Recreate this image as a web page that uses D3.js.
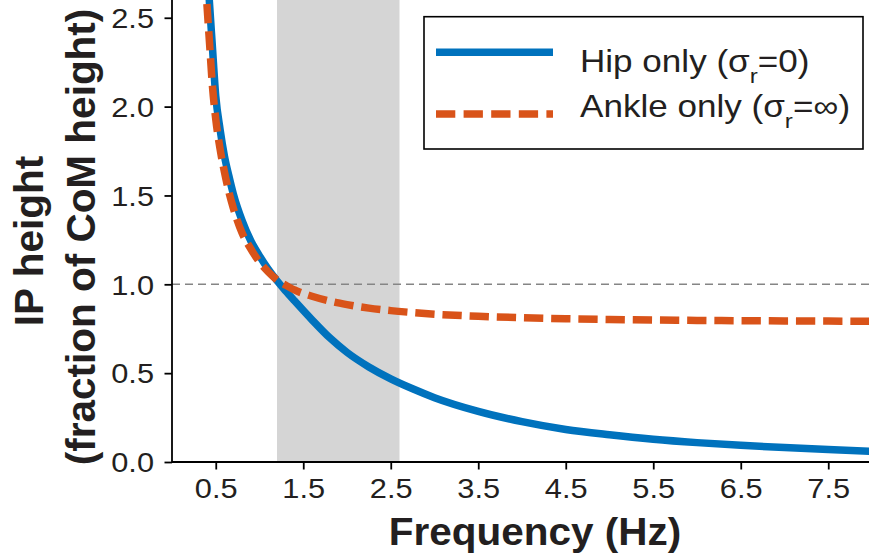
<!DOCTYPE html>
<html>
<head>
<meta charset="utf-8">
<script src="https://cdn.jsdelivr.net/npm/d3@7"></script>
<style>
  html, body { margin: 0; padding: 0; background: #fff; }
  svg { display: block; }
  text { font-family: "Liberation Sans", Arial, Helvetica, sans-serif; fill: #231f20; }
</style>
</head>
<body>
<svg id="chart" width="869" height="560"></svg>
<script>
// Inverted-pendulum height vs. sway frequency, for the two limiting strategies
const frequency = [0.38, 0.40, 0.43, 0.46, 0.50, 0.55, 0.60, 0.65, 0.70, 0.80,
                   0.90, 1.00, 1.10, 1.20, 1.30, 1.40, 1.60, 1.80, 2.00, 2.25,
                   2.50, 2.75, 3.00, 3.50, 4.00, 4.50, 5.00, 5.50, 6.00, 6.50,
                   7.00, 7.50, 8.00];
const hipOnly = [2.99, 2.81, 2.57, 2.35, 2.06, 1.87, 1.72, 1.61, 1.51, 1.36,
                 1.245, 1.16, 1.085, 1.02, 0.962, 0.907, 0.80, 0.70, 0.617, 0.535,
                 0.468, 0.412, 0.362, 0.285, 0.227, 0.183, 0.153, 0.128, 0.109, 0.094,
                 0.081, 0.070, 0.060];
const ankleOnly = [2.73, 2.57, 2.35, 2.13, 1.93, 1.76, 1.63, 1.52, 1.43, 1.29,
                   1.20, 1.125, 1.07, 1.025, 0.995, 0.968, 0.933, 0.906, 0.886, 0.866,
                   0.852, 0.841, 0.832, 0.820, 0.812, 0.806, 0.802, 0.799, 0.797, 0.795,
                   0.794, 0.793, 0.792];
const xTicks = [0.5, 1.5, 2.5, 3.5, 4.5, 5.5, 6.5, 7.5];
const yTicks = [0.0, 0.5, 1.0, 1.5, 2.0, 2.5];
const shadedBand = [1.2, 2.6];   // Hz
const referenceLevel = 1.0;      // IP height equal to CoM height
const xDomain = [0, 8];
const yDomain = [0, 2.6];

const W = 869, H = 560;
const plot = { left: 172, right: 872, top: 0, bottom: 462 };
const blue = "#0072BD", orange = "#D95319";
const labelStretch = 1.14;

const svg = d3.select("#chart");
const x = d3.scaleLinear().domain(xDomain).range([plot.left, plot.right]);
const y = d3.scaleLinear().domain(yDomain).range([plot.bottom, plot.top]);

svg.append("defs").append("clipPath").attr("id", "plotClip")
  .append("rect")
  .attr("x", plot.left).attr("y", plot.top)
  .attr("width", W - plot.left).attr("height", plot.bottom - plot.top);

const area = svg.append("g").attr("clip-path", "url(#plotClip)");

// shaded frequency band
area.append("rect")
  .attr("x", x(shadedBand[0]))
  .attr("y", y(yDomain[1]))
  .attr("width", x(shadedBand[1]) - x(shadedBand[0]))
  .attr("height", y(yDomain[0]) - y(yDomain[1]))
  .attr("fill", "#d5d5d5");

// reference line at CoM height
area.append("line")
  .attr("x1", x(xDomain[0])).attr("x2", x(xDomain[1]))
  .attr("y1", y(referenceLevel)).attr("y2", y(referenceLevel))
  .attr("stroke", "#858585").attr("stroke-width", 1.6)
  .attr("stroke-dasharray", "8,5");

const line = d3.line()
  .x(d => x(d[0])).y(d => y(d[1]))
  .curve(d3.curveMonotoneX);

area.append("path")
  .datum(frequency.map((f, i) => [f, hipOnly[i]]))
  .attr("d", line)
  .attr("fill", "none").attr("stroke", blue)
  .attr("stroke-width", 7.5);

area.append("path")
  .datum(frequency.map((f, i) => [f, ankleOnly[i]]))
  .attr("d", line)
  .attr("fill", "none").attr("stroke", orange)
  .attr("stroke-width", 7.5)
  .attr("stroke-dasharray", "19.3,7.9");

// axes
const fmt = d3.format(".1f");
const xAxis = svg.append("g")
  .attr("transform", `translate(0,${plot.bottom})`)
  .call(d3.axisBottom(x).tickValues(xTicks).tickFormat(fmt).tickSize(7.5).tickSizeOuter(0));
const yAxis = svg.append("g")
  .attr("transform", `translate(${plot.left},0)`)
  .call(d3.axisLeft(y).tickValues(yTicks).tickFormat(fmt).tickSize(7.5).tickSizeOuter(0));

[xAxis, yAxis].forEach(g => {
  g.select(".domain").attr("stroke", "#000").attr("stroke-width", 1.8);
  g.selectAll(".tick line").attr("stroke", "#000").attr("stroke-width", 1.8);
  g.selectAll(".tick text")
    .style("font-family", '"Liberation Sans", Arial, Helvetica, sans-serif')
    .style("font-size", "27px").attr("fill", "#231f20");
});
xAxis.select(".domain").attr("d", `M${plot.left},0H${W}`);
yAxis.select(".domain").attr("d", `M0,${plot.top}V${plot.bottom}`);

xAxis.selectAll(".tick text")
  .attr("y", 0).attr("dy", null)
  .attr("transform", `translate(0,36) scale(${labelStretch},1)`);
yAxis.selectAll(".tick text")
  .attr("x", 0).attr("dy", null)
  .attr("transform", `translate(-18,9.7) scale(${labelStretch},1)`);

// axis titles
svg.append("text")
  .attr("transform", "translate(535,545) scale(1.066,1)")
  .attr("text-anchor", "middle")
  .style("font-size", "38px").style("font-weight", "bold")
  .attr("fill", "#000")
  .text("Frequency (Hz)");

svg.append("text")
  .attr("transform", "translate(43,241) rotate(-90)")
  .attr("text-anchor", "middle")
  .style("font-size", "40.5px").style("font-weight", "bold")
  .attr("fill", "#000")
  .text("IP height");
svg.append("text")
  .attr("transform", "translate(95,237) rotate(-90)")
  .attr("text-anchor", "middle")
  .style("font-size", "40.5px").style("font-weight", "bold")
  .attr("fill", "#000")
  .text("(fraction of CoM height)");

// legend
const legend = svg.append("g");
legend.append("rect")
  .attr("x", 424).attr("y", 16.7).attr("width", 439).attr("height", 132.3)
  .attr("fill", "#fff").attr("stroke", "#000").attr("stroke-width", 1.6);

const entries = [
  { name: "Hip only (σ", tail: "=0)", color: blue, dash: null, lineY: 52.3, textY: 72 },
  { name: "Ankle only (σ", tail: "=∞)", color: orange, dash: "19.3,8.3", lineY: 114, textY: 117 }
];
entries.forEach(e => {
  legend.append("line")
    .attr("x1", 436).attr("x2", 553)
    .attr("y1", e.lineY).attr("y2", e.lineY)
    .attr("stroke", e.color).attr("stroke-width", 7.5)
    .attr("stroke-dasharray", e.dash);
  const t = legend.append("text")
    .attr("transform", `translate(580,${e.textY}) scale(1.15,1)`)
    .style("font-size", "30.5px");
  t.append("tspan").text(e.name);
  t.append("tspan").attr("dy", 11).style("font-size", "21px").text("r");
  t.append("tspan").attr("dy", -11).text(e.tail);
});
</script>
</body>
</html>
